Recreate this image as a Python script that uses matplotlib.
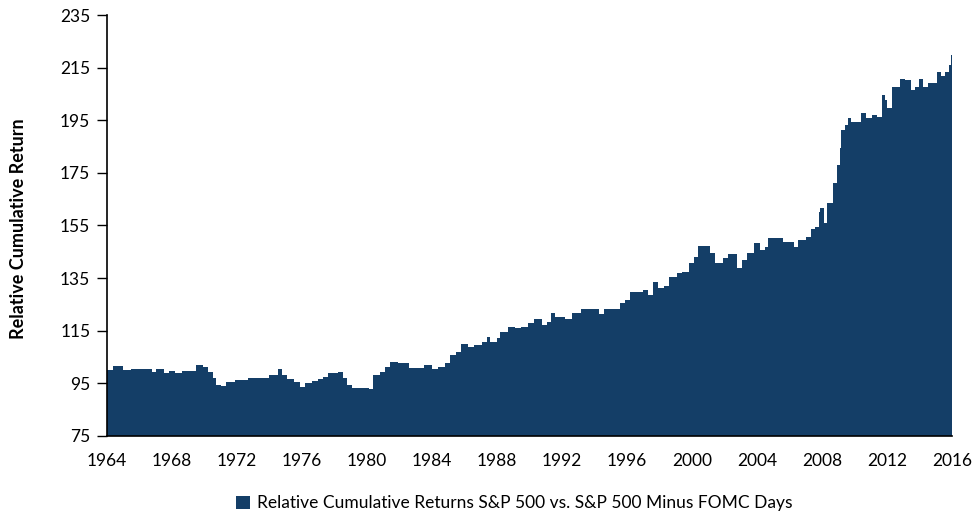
import matplotlib
matplotlib.use("Agg")
import matplotlib.pyplot as plt
from matplotlib.patches import Patch
import numpy as np

years = [1964.0, 1964.4, 1965.0, 1965.5, 1966.8, 1967.0, 1967.5, 1967.8, 1968.2, 1968.6,
         1969.5, 1969.9, 1970.2, 1970.5, 1970.7, 1971.0, 1971.3, 1971.9, 1972.7, 1974.0,
         1974.5, 1974.8, 1975.1, 1975.5, 1975.9, 1976.2, 1976.6, 1977.0, 1977.3, 1977.6,
         1978.2, 1978.5, 1978.8, 1979.1, 1980.1, 1980.4, 1980.8, 1981.1, 1981.4, 1981.9,
         1982.6, 1983.0, 1983.5, 1984.0, 1984.4, 1984.8, 1985.1, 1985.5, 1985.8, 1986.2,
         1986.6, 1987.1, 1987.4, 1987.6, 1988.0, 1988.2, 1988.7, 1989.1, 1989.5, 1989.9,
         1990.3, 1990.8, 1991.1, 1991.3, 1991.6, 1992.2, 1992.6, 1993.2, 1994.3, 1994.6,
         1995.6, 1995.9, 1996.2, 1997.0, 1997.3, 1997.6, 1997.9, 1998.3, 1998.6, 1999.1,
         1999.4, 1999.8, 2000.1, 2000.4, 2001.1, 2001.4, 2001.9, 2002.2, 2002.8, 2003.1,
         2003.4, 2003.8, 2004.2, 2004.5, 2004.7, 2005.6, 2006.3, 2006.5, 2007.0, 2007.3,
         2007.6, 2007.8, 2007.9, 2008.1, 2008.3, 2008.7, 2008.9, 2009.1, 2009.2, 2009.4,
         2009.6, 2009.8, 2010.4, 2010.7, 2011.1, 2011.4, 2011.7, 2011.9, 2012.0, 2012.3,
         2012.8, 2013.1, 2013.5, 2013.7, 2014.0, 2014.2, 2014.5, 2015.1, 2015.3, 2015.6,
         2015.8, 2015.93]
values = [100.1, 101.6, 100.1, 100.5, 99.4, 100.3, 98.8, 99.8, 99.1, 99.8,
          102.0, 101.1, 99.4, 96.9, 94.4, 94.0, 95.6, 96.3, 97.2, 98.2,
          100.3, 98.2, 96.5, 95.6, 93.7, 95.3, 95.9, 96.5, 97.5, 98.8,
          99.4, 96.9, 94.4, 93.4, 92.9, 98.2, 99.4, 101.3, 103.2, 102.6,
          101.0, 100.7, 102.0, 100.5, 101.3, 102.6, 105.8, 107.0, 109.8, 108.9,
          109.6, 110.8, 112.5, 110.8, 112.1, 114.6, 116.3, 115.9, 116.3, 117.8,
          119.4, 117.2, 118.4, 121.9, 120.1, 119.5, 121.9, 123.1, 121.4, 123.1,
          125.4, 126.7, 129.8, 130.5, 128.6, 133.7, 131.1, 132.0, 135.6, 136.8,
          137.4, 140.6, 143.2, 147.2, 144.4, 140.9, 142.5, 144.0, 138.7, 141.9,
          144.4, 148.2, 145.7, 146.7, 150.1, 148.9, 146.7, 149.5, 150.8, 153.6,
          154.6, 160.3, 161.5, 155.8, 163.5, 171.0, 178.0, 184.3, 191.3, 193.2,
          195.7, 194.5, 197.9, 195.7, 197.0, 196.4, 204.6, 202.7, 199.5, 207.8,
          210.6, 210.3, 206.5, 207.8, 210.6, 207.8, 209.3, 213.5, 211.8, 213.5,
          216.0, 219.8]

x_ticks = [1964, 1968, 1972, 1976, 1980, 1984, 1988, 1992, 1996, 2000, 2004, 2008, 2012, 2016]
y_ticks = [75, 95, 115, 135, 155, 175, 195, 215, 235]
series_label = "Relative Cumulative Returns S&P 500 vs. S&P 500 Minus FOMC Days"
y_label = "Relative Cumulative Return"

color = "#143e67"
font = "Lato"

fig = plt.figure(figsize=(9.76, 5.14), dpi=100)
ax = fig.add_axes([0.1096, 0.1518, 0.8658, 0.8190])

# hold the last reading until the end of the axis
xs = years + [x_ticks[-1]]
vs = values + [values[-1]]
ax.fill_between(xs, vs, y_ticks[0], step="post", color=color, linewidth=0)
ax.set_xlim(x_ticks[0], x_ticks[-1])
ax.set_ylim(y_ticks[0], y_ticks[-1])
ax.set_xticks(x_ticks)
ax.set_yticks(y_ticks)
ax.set_xticklabels([str(t) for t in x_ticks], fontfamily=font, fontsize=12.5)
ax.set_yticklabels([str(t) for t in y_ticks], fontfamily=font, fontsize=12.5)
ax.tick_params(axis="x", length=0, pad=12)
ax.tick_params(axis="y", length=7, width=1, direction="out", pad=5)
for s in ["top", "right"]:
    ax.spines[s].set_visible(False)
ax.spines["left"].set_linewidth(1.2)
ax.spines["bottom"].set_linewidth(1.2)

fig.text(0.019, 0.556, y_label, rotation=90, ha="center", va="center",
         fontfamily=font, fontweight="bold", fontsize=13)

handle = Patch(facecolor=color, edgecolor="none")
fig.legend([handle], [series_label], loc="center", bbox_to_anchor=(0.527, 0.021),
           frameon=False, prop={"family": font, "size": 12.5},
           handlelength=0.8, handleheight=0.8, handletextpad=0.4)

fig.savefig("out.png", dpi=100)
